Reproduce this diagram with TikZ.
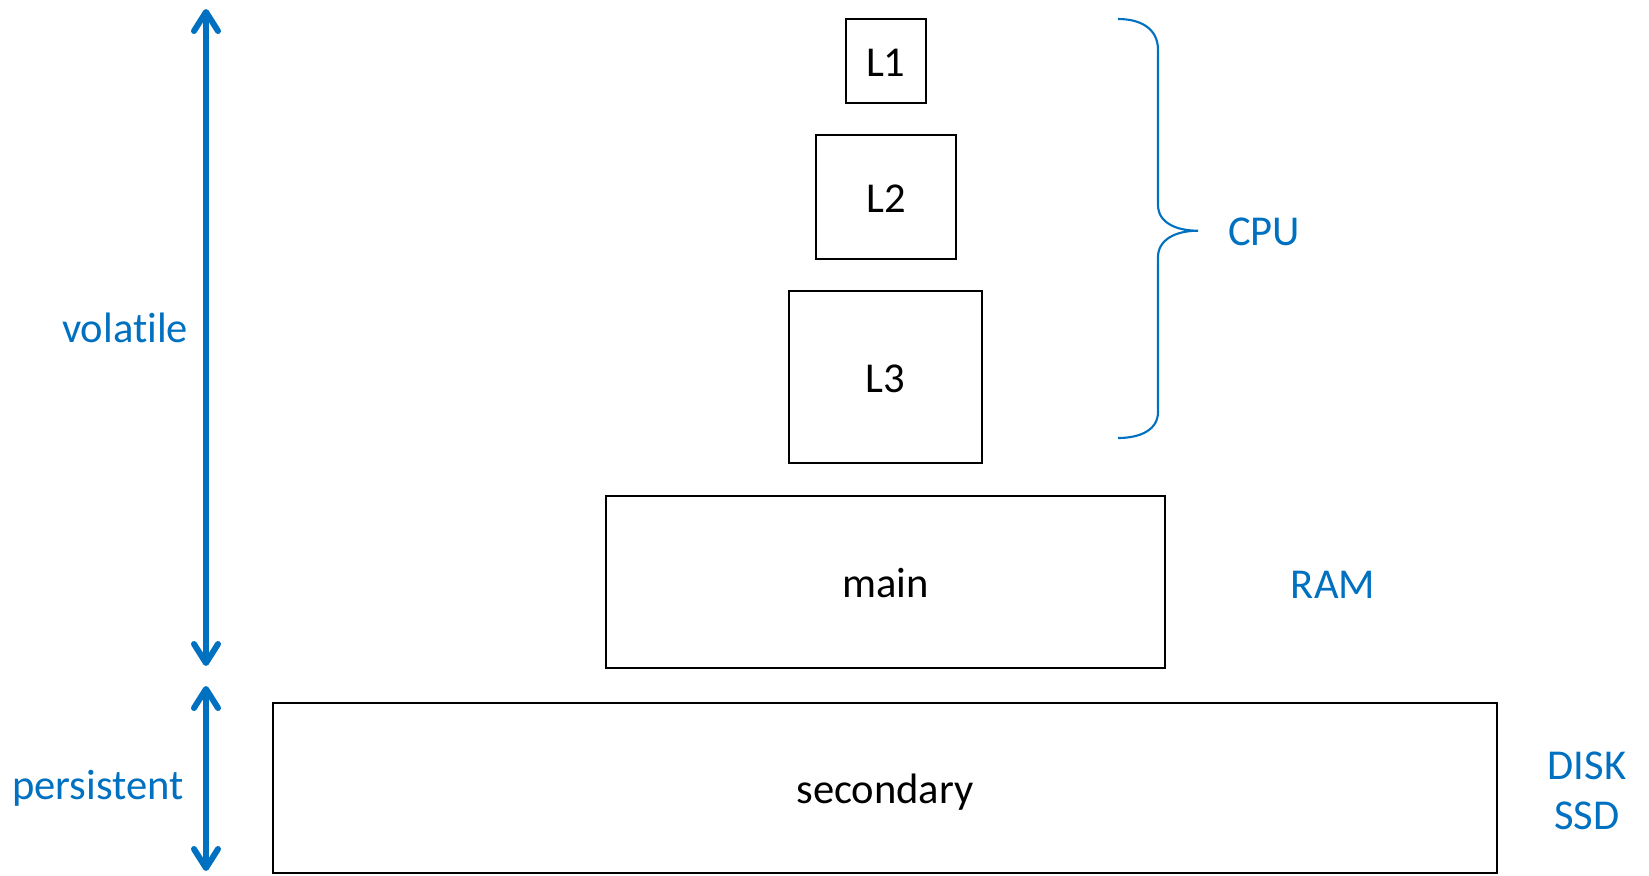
\documentclass[tikz,border=0pt]{standalone}
\usepackage{fontspec}
\setmainfont{Carlito}[Ligatures=NoCommon]
\usetikzlibrary{arrows.meta}
\definecolor{accent}{HTML}{0070C0}
\tikzset{
  level/.style={draw=black, line width=0.6pt, inner sep=0pt, anchor=center,
    text height=8.82pt, text depth=0pt,
    font=\fontsize{12.1}{14.5}\selectfont},
  tag/.style={text=accent, inner sep=0pt, anchor=base,
    font=\fontsize{12.1}{13.94}\selectfont},
  span/.style={draw=accent, line width=1.7pt,
    {Straight Barb[length=0.19cm, width=0.24cm, round]}-{Straight Barb[length=0.19cm, width=0.24cm, round]}},
  brace/.style={draw=accent, line width=0.6pt}
}
\begin{document}
\begin{tikzpicture}[x=0.01cm, y=-0.01cm]
  \useasboundingbox (0,0) rectangle (1649,875);

  % memory levels
  \node[level, minimum width=0.80cm,  minimum height=0.84cm]  (l1)  at (885.8,60.7)  {L1};
  \node[level, minimum width=1.40cm,  minimum height=1.243cm] (l2)  at (886,196.8)   {L2};
  \node[level, minimum width=1.935cm, minimum height=1.714cm] (l3)  at (885.5,377)   {L3};
  \node[level, minimum width=5.595cm, minimum height=1.714cm] (ram) at (885.5,582.1) {main};
  \node[level, minimum width=12.23cm, minimum height=1.70cm]  (sec) at (885,787.6)   {secondary};

  % volatility ranges
  \coordinate (vtop) at (206,9);
  \coordinate (vbot) at (206,666);
  \coordinate (ptop) at (206,686);
  \coordinate (pbot) at (206,871);
  \draw[span] (vtop) -- (vbot);
  \draw[span] (ptop) -- (pbot);
  \node[tag] (vol) at (125,342.3) {volatile};
  \node[tag] (per) at (97.8,799.3) {persistent};

  % brace grouping the caches
  \coordinate (btop) at (1118,19);
  \coordinate (btip) at (1198,230.7);
  \coordinate (bbot) at (1118,438);
  \draw[brace] (btop) .. controls (1140,19) and (1158,28) .. (1158,50)
    -- (1158,205) .. controls (1158,222) and (1175,230.7) .. (btip)
    .. controls (1175,230.7) and (1158,240) .. (1158,257)
    -- (1158,412) .. controls (1158,430) and (1140,438) .. (bbot);

  % hardware labels (a two-line label sits on the baseline of its last line)
  \node[tag] (cpu) at (1264,245.7) {CPU};
  \node[tag] (ramlbl) at (1333,598) {RAM};
  \node[tag, align=center] (disk) at (1587,829) {DISK\\SSD};
\end{tikzpicture}
\end{document}
